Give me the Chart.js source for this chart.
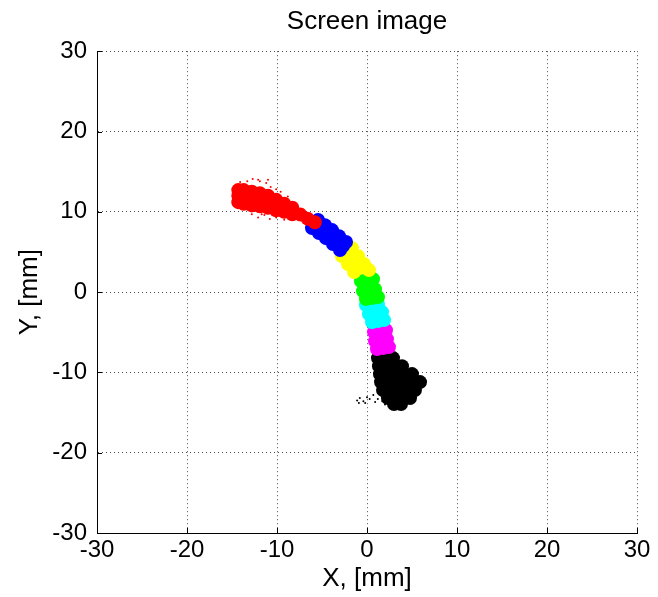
<!DOCTYPE html>
<html>
<head>
<meta charset="utf-8">
<script src="https://cdn.jsdelivr.net/npm/chart.js@4.4.1/dist/chart.umd.min.js"></script>
<style>
  html, body { margin: 0; padding: 0; background: #fff; }
  #wrap { width: 658px; height: 597px; position: relative; }
</style>
</head>
<body>
<div id="wrap"><canvas id="screen-chart" width="658" height="597"></canvas></div>
<script>
// Axis ticks (mm)
const tickValues = [-30, -20, -10, 0, 10, 20, 30];

// Spot clusters, [x, y] in mm
const redPts = [
    [-14.3, 12.7], [-14.3, 11.2], [-14.3, 12.0],
    [-13.7, 12.7], [-13.7, 11.0], [-13.7, 11.8],
    [-12.8, 12.5], [-12.8, 10.8], [-12.8, 11.6],
    [-11.9, 12.3], [-11.9, 10.7], [-11.9, 11.5],
    [-11.0, 12.0], [-11.0, 10.5],
    [-10.1, 11.5], [-10.1, 10.2],
    [-9.2, 11.0], [-9.2, 10.0],
    [-8.3, 10.5], [-8.3, 9.7],
    [-7.4, 9.65], [-6.6, 9.15], [-5.8, 8.7]
];
const redSpray = [
    [-13.3, 13.8], [-12.7, 14.1], [-11.9, 13.8], [-11.2, 13.6], [-10.7, 13.1],
    [-10.1, 12.8], [-9.6, 12.5], [-11.0, 14.0], [-14.1, 13.7], [-12.1, 14.0],
    [-12.8, 9.7], [-12.1, 9.3], [-11.4, 9.6], [-10.8, 9.1], [-10.1, 9.3],
    [-9.2, 9.0], [-11.7, 9.7], [-8.8, 11.9]
];
const bluePts = [
    [-5.78, 8.47], [-5.0, 7.85], [-4.22, 7.22], [-3.44, 6.48], [-2.67, 5.73],
    [-5.44, 8.97], [-4.67, 8.34], [-3.89, 7.72], [-3.11, 6.97], [-2.33, 6.23],
    [-6.11, 7.97], [-5.33, 7.35], [-4.56, 6.72], [-3.78, 5.98], [-3.0, 5.23]
];
const yellowPts = [
    [-2.22, 4.98], [-1.56, 3.99], [-0.89, 2.99],
    [-1.67, 5.48], [-1.0, 4.48], [-0.33, 3.49], [0.22, 2.74],
    [-2.78, 4.48], [-2.11, 3.49], [-1.44, 2.49]
];
const greenPts = [
    [0.0, 1.49], [0.22, 0.25], [0.56, -0.75],
    [-0.67, 1.37], [-0.44, 0.12], [-0.11, -0.87],
    [0.67, 1.62], [0.89, 0.37], [1.22, -0.62]
];
const cyanPts = [
    [0.56, -1.62], [0.89, -2.62], [1.22, -3.61],
    [-0.11, -1.62], [0.22, -2.74], [0.56, -3.74],
    [1.22, -1.49], [1.67, -2.49], [1.89, -3.49]
];
const magentaPts = [
    [1.44, -4.86], [1.56, -5.98], [1.78, -6.97],
    [0.78, -4.98], [0.89, -6.10], [1.11, -7.10],
    [2.11, -4.73], [2.22, -5.85], [2.44, -6.85]
];
const blackPts = [
    [1.22, -8.22], [2.11, -8.22], [2.89, -8.22],
    [1.33, -9.22], [2.22, -9.22], [3.11, -9.22], [3.89, -9.22],
    [1.44, -10.21], [2.33, -10.21], [3.22, -10.21], [4.11, -10.21], [5.0, -10.21],
    [1.56, -11.21], [2.44, -11.21], [3.33, -11.21], [4.22, -11.21], [5.11, -11.21], [5.89, -11.21],
    [1.78, -12.2], [2.67, -12.2], [3.56, -12.2], [4.44, -12.2], [5.33, -12.2],
    [2.33, -13.2], [3.22, -13.2], [4.11, -13.2], [4.78, -13.2],
    [3.0, -13.95], [3.78, -13.95]
];
const blackSpray = [
    [-1.1, -13.5], [-0.8, -13.2], [-0.4, -13.6], [0.0, -13.1], [0.3, -13.3],
    [0.7, -12.8], [0.9, -13.7], [1.2, -13.3], [1.7, -13.6], [-0.2, -13.8],
    [-0.9, -13.8], [2.0, -14.0], [1.4, -12.7]
];

const fontFamily = "'Liberation Sans', Arial, Helvetica, sans-serif";

function toXY(list) {
    return list.map(p => ({ x: p[0], y: p[1] }));
}

function blob(label, pts, color, radius) {
    return {
        label: label,
        data: toXY(pts),
        backgroundColor: color,
        borderWidth: 0,
        pointRadius: radius,
        pointHoverRadius: radius
    };
}

// MATLAB style inward ticks on the left and bottom axes
const inwardTicks = {
    id: 'inwardTicks',
    afterDatasetsDraw(chart) {
        const { ctx, chartArea: a, scales: { x, y } } = chart;
        ctx.save();
        ctx.strokeStyle = '#000';
        ctx.lineWidth = 1;
        ctx.beginPath();
        tickValues.forEach(v => {
            const px = Math.round(x.getPixelForValue(v)) + 0.5;
            ctx.moveTo(px, a.bottom);
            ctx.lineTo(px, a.bottom - 5);
            const py = Math.round(y.getPixelForValue(v)) + 0.5;
            ctx.moveTo(a.left, py);
            ctx.lineTo(a.left + 5, py);
        });
        ctx.stroke();
        ctx.restore();
    }
};

const gridStyle = {
    color: 'rgba(0,0,0,0.7)',
    lineWidth: 1,
    drawTicks: false
};

const ctx = document.getElementById('screen-chart').getContext('2d');
const chart = new Chart(ctx, {
    type: 'scatter',
    data: {
        datasets: [
            blob('red', redPts, '#ff0000', 7),
            blob('red spray', redSpray, '#ff0000', 1),
            blob('blue', bluePts, '#0000ff', 7),
            blob('yellow', yellowPts, '#ffff00', 7),
            blob('green', greenPts, '#00ff00', 7),
            blob('cyan', cyanPts, '#00ffff', 7),
            blob('magenta', magentaPts, '#ff00ff', 7),
            blob('black', blackPts, '#000000', 7),
            blob('black spray', blackSpray, '#000000', 1)
        ]
    },
    options: {
        responsive: false,
        animation: false,
        layout: {
            padding: { left: 0, right: 21, top: 0, bottom: 0 }
        },
        scales: {
            x: {
                type: 'linear',
                min: -30,
                max: 30,
                afterFit: function (scale) { scale.height = 64; },
                afterBuildTicks: function (scale) {
                    scale.ticks = tickValues.map(v => ({ value: v }));
                },
                grid: gridStyle,
                border: { display: true, color: '#000', width: 1, dash: [1, 3] },
                ticks: {
                    color: '#000',
                    padding: 3,
                    maxRotation: 0,
                    font: { family: fontFamily, size: 24 }
                },
                title: {
                    display: true,
                    text: 'X, [mm]',
                    color: '#000',
                    padding: { top: 0, bottom: 3 },
                    font: { family: fontFamily, size: 26 }
                }
            },
            y: {
                type: 'linear',
                min: -30,
                max: 30,
                afterFit: function (scale) { scale.width = 97; },
                afterBuildTicks: function (scale) {
                    scale.ticks = tickValues.map(v => ({ value: v }));
                },
                grid: gridStyle,
                border: { display: true, color: '#000', width: 1, dash: [1, 3] },
                ticks: {
                    color: '#000',
                    padding: 10,
                    font: { family: fontFamily, size: 24 }
                },
                title: {
                    display: true,
                    text: 'Y, [mm]',
                    color: '#000',
                    padding: { top: 14, bottom: 0 },
                    font: { family: fontFamily, size: 26 }
                }
            }
        },
        plugins: {
            legend: { display: false },
            tooltip: { enabled: false },
            title: {
                display: true,
                text: 'Screen image',
                color: '#000',
                fullSize: false,
                padding: { top: 6, bottom: 14 },
                font: { family: fontFamily, size: 26, weight: 'normal' }
            }
        }
    },
    plugins: [inwardTicks]
});
</script>
</body>
</html>
